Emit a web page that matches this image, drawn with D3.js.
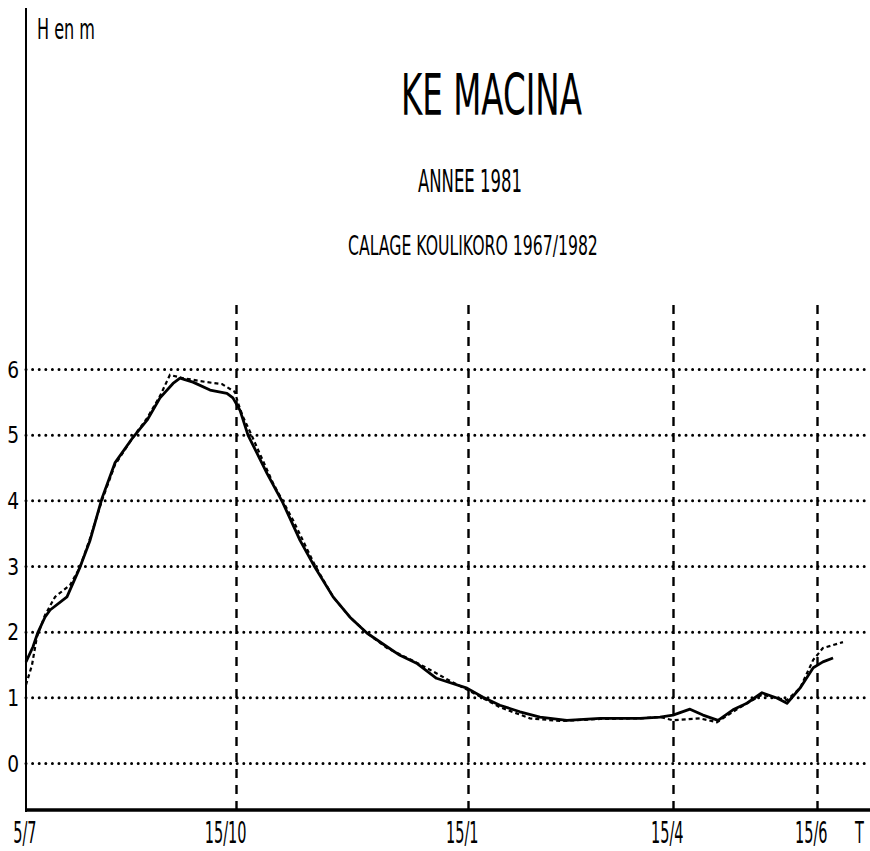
<!DOCTYPE html>
<html>
<head>
<meta charset="utf-8">
<script src="https://cdn.jsdelivr.net/npm/d3@7"></script>
<style>
body { margin: 0; background: #fff; }
svg text { font-family: "DejaVu Sans Condensed", "DejaVu Sans", sans-serif; fill: #000; }
</style>
</head>
<body>
<div id="chart"></div>
<script>
// jours comptes depuis le 5/7/1981, hauteurs en m
var obsDays = [0, 3.4, 5.8, 9.2, 11.7, 19.9, 26.2, 31.1, 36.9, 43.2, 52, 58.8, 65.1, 71.4, 74.8, 81.1, 89.4, 97.6, 100.5, 103.6,
    106.8, 114.3, 120.6, 127.4, 133.3, 140.5, 147.2, 153.9, 161.9, 167, 173.6, 181.5, 193.6, 200.6, 208, 216.8, 225.6, 237.4,
    252, 269.5, 278.3, 284, 291.2, 296.7, 303.1, 309.4, 315.3, 321.7, 328, 332.3, 337.8, 343.4, 347.5, 351.8];
var obsH = [1.54, 1.77, 1.99, 2.22, 2.33, 2.53, 2.98, 3.39, 4.03, 4.57, 4.96, 5.22, 5.56, 5.78, 5.86, 5.80, 5.68, 5.63, 5.56, 5.37,
    4.99, 4.41, 3.96, 3.39, 2.98, 2.53, 2.22, 1.98, 1.77, 1.64, 1.52, 1.29, 1.14, 1.00, 0.88, 0.78, 0.70, 0.65,
    0.68, 0.68, 0.70, 0.73, 0.82, 0.73, 0.65, 0.81, 0.91, 1.07, 0.99, 0.91, 1.14, 1.45, 1.54, 1.60];

var calcDays = [0, 2.9, 5.3, 9.2, 14.1, 21.4, 26.2, 31.1, 36.9, 43.2, 52, 58.8, 65.1, 69.9, 76.3, 87.9, 95.2, 101.5, 102.8, 104.8,
    107.6, 116.7, 124.6, 133.3, 140.5, 147.2, 153.9, 161.9, 171, 178.9, 186.9, 194, 208, 221.2, 234.4, 252, 269.5, 278.3,
    284, 295.4, 302.6, 309.4, 315.3, 321.7, 328, 332.3, 337.8, 343.4, 347.5, 356];
var calcH = [1.19, 1.49, 1.92, 2.25, 2.53, 2.71, 2.98, 3.42, 4.00, 4.54, 4.96, 5.25, 5.59, 5.91, 5.86, 5.80, 5.77, 5.65, 5.48, 5.27,
    5.04, 4.26, 3.70, 3.01, 2.53, 2.22, 1.98, 1.75, 1.58, 1.42, 1.25, 1.11, 0.85, 0.68, 0.64, 0.67, 0.68, 0.70,
    0.65, 0.68, 0.62, 0.78, 0.91, 1.04, 0.99, 0.96, 1.14, 1.57, 1.75, 1.84];

var hTicks = [0, 1, 2, 3, 4, 5, 6];
var tickDays = [0, 102, 194, 284, 345];
var tickLabels = ["5/7", "15/10", "15/1", "15/4", "15/6"];

var svg = d3.select("#chart").append("svg")
    .attr("width", 870)
    .attr("height", 851);

// l'axe du temps du trace original n'est pas regulier d'un repere a l'autre
var x = d3.scaleLinear().domain(tickDays).range([26, 236, 468, 673, 817]);
var y = d3.scaleLinear().domain([0, 6]).range([763, 369]);

// texte comprime a une largeur donnee (police de traceur)
function fitText(str, x0, base, size, w) {
    var t = svg.append("text").attr("font-size", size).text(str);
    var len = t.node().getComputedTextLength();
    t.attr("transform", "translate(" + x0 + "," + base + ") scale(" + (w / len) + ",1)");
    return t;
}

// grille horizontale en pointilles + graduations H
var yAxis = svg.append("g")
    .attr("transform", "translate(26,0)")
    .call(d3.axisLeft(y).tickValues(hTicks).tickSize(-844).tickFormat(d3.format("d")));
yAxis.select(".domain").remove();
yAxis.selectAll(".tick line")
    .attr("stroke", "#000")
    .attr("stroke-width", 3)
    .attr("stroke-linecap", "round")
    .attr("stroke-dasharray", "0,6.6");
yAxis.selectAll(".tick text")
    .attr("font-size", 23)
    .attr("x", -7 / 0.9)
    .attr("dy", "0.36em")
    .attr("transform", "scale(0.9,1)");

// reperes de dates en tirets verticaux
var xAxis = svg.append("g")
    .attr("transform", "translate(0,810)")
    .call(d3.axisBottom(x).tickValues(tickDays).tickSize(-507).tickFormat(function(d, i) { return tickLabels[i]; }));
xAxis.select(".domain").remove();
xAxis.selectAll(".tick line")
    .attr("stroke", "#000")
    .attr("stroke-width", 2.4)
    .attr("stroke-dasharray", "9,7");
xAxis.selectAll(".tick line").filter(function(d) { return d === 0; }).remove();
xAxis.selectAll(".tick text")
    .attr("font-size", 31)
    .attr("text-anchor", "end")
    .attr("x", 10 / 0.52)
    .attr("y", 33)
    .attr("dy", 0)
    .attr("transform", "scale(0.52,1)");

// axes
svg.append("line")
    .attr("x1", 26).attr("x2", 26).attr("y1", 8).attr("y2", 812)
    .attr("stroke", "#000").attr("stroke-width", 2);
svg.append("line")
    .attr("x1", 26).attr("x2", 870).attr("y1", 810).attr("y2", 810)
    .attr("stroke", "#000").attr("stroke-width", 3.5);

// courbes
var line = d3.line()
    .x(function(d) { return x(d[0]); })
    .y(function(d) { return y(d[1]); });

svg.append("path")
    .datum(d3.zip(calcDays, calcH))
    .attr("d", line)
    .attr("fill", "none")
    .attr("stroke", "#000")
    .attr("stroke-width", 2.2)
    .attr("stroke-dasharray", "4,3");

svg.append("path")
    .datum(d3.zip(obsDays, obsH))
    .attr("d", line)
    .attr("fill", "none")
    .attr("stroke", "#000")
    .attr("stroke-width", 2.8)
    .attr("stroke-linejoin", "round");

// textes
fitText("H en m", 37, 39, 29, 58);
fitText("KE MACINA", 401, 115, 57, 181);
fitText("ANNEE 1981", 418, 192, 32, 104);
fitText("CALAGE KOULIKORO 1967/1982", 348, 255, 27, 250);
svg.append("text")
    .attr("font-size", 31)
    .attr("transform", "translate(855,843) scale(0.52,1)")
    .text("T");
</script>
</body>
</html>
